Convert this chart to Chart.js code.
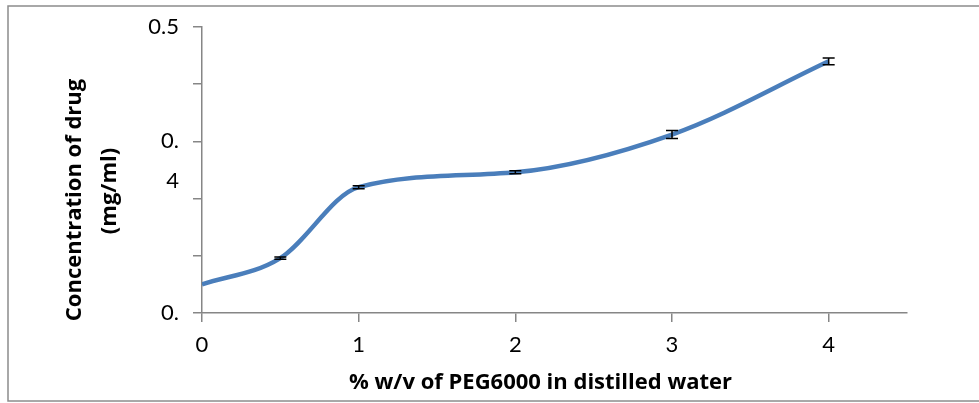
<!DOCTYPE html>
<html>
<head>
<meta charset="utf-8">
<script src="https://cdn.jsdelivr.net/npm/chart.js@4"></script>
<style>
  html, body { margin: 0; padding: 0; background: #fff; }
  #wrap { width: 979px; height: 403px; }
</style>
</head>
<body>
<div id="wrap"><canvas id="drugChart"></canvas></div>
<script>
// % w/v of PEG6000 and measured drug concentration (mg/ml)
const pegPercent = [0, 0.5, 1, 2, 3, 4];
const drugConc = [0.275, 0.298, 0.360, 0.373, 0.406, 0.470];
const drugErr = [0, 0.001, 0.0013, 0.0013, 0.0035, 0.003];

const xTicks = [0, 1, 2, 3, 4];
const yTicks = [0.25, 0.3, 0.35, 0.4, 0.45, 0.5];
const yTickLabels = ['0.', '', '', ['', '0.', '4'], '', '0.5'];
const xTitle = '% w/v of PEG6000 in distilled water';
const yTitleLines = ['Concentration of drug', '(mg/ml)'];

const axisGray = '#868686';
const titleFont = 'bold 22px "Open Sans"';

// frame round the whole picture
const framePlugin = {
    id: 'frame',
    beforeDraw(chart) {
        const ctx = chart.ctx;
        ctx.save();
        ctx.strokeStyle = '#8c8c8c';
        ctx.lineWidth = 1.5;
        ctx.strokeRect(8, 6, 1000, 395);
        ctx.restore();
    }
};

// axis titles, placed like the original (a little off the axis middle)
const titlePlugin = {
    id: 'axisTitles',
    afterDraw(chart) {
        const ctx = chart.ctx;
        const area = chart.chartArea;
        ctx.save();
        ctx.fillStyle = '#000';
        ctx.font = titleFont;
        ctx.textAlign = 'center';
        ctx.textBaseline = 'middle';

        ctx.fillText(xTitle, (area.left + area.right) / 2 - 14, 383);

        const midY = (area.top + area.bottom) / 2 + 30;
        [75, 110].forEach(function(x, i) {
            ctx.save();
            ctx.translate(x, midY - i * 9);
            ctx.rotate(-Math.PI / 2);
            ctx.fillText(yTitleLines[i], 0, 0);
            ctx.restore();
        });
        ctx.restore();
    }
};

// error bars
const errorBarPlugin = {
    id: 'errorBars',
    afterDatasetsDraw(chart) {
        const ctx = chart.ctx;
        const xs = chart.scales.x, ys = chart.scales.y;
        ctx.save();
        ctx.strokeStyle = '#000';
        ctx.lineWidth = 1.5;
        pegPercent.forEach(function(p, i) {
            if (!drugErr[i]) return;
            const px = xs.getPixelForValue(p);
            const top = ys.getPixelForValue(drugConc[i] + drugErr[i]);
            const bot = ys.getPixelForValue(drugConc[i] - drugErr[i]);
            ctx.beginPath();
            ctx.moveTo(px, top); ctx.lineTo(px, bot);
            ctx.moveTo(px - 6, top); ctx.lineTo(px + 6, top);
            ctx.moveTo(px - 6, bot); ctx.lineTo(px + 6, bot);
            ctx.stroke();
        });
        ctx.restore();
    }
};

const ctx = document.getElementById('drugChart').getContext('2d');
const drugChart = new Chart(ctx, {
    type: 'line',
    data: {
        datasets: [{
            label: 'Concentration of drug',
            data: pegPercent.map((p, i) => ({ x: p, y: drugConc[i] })),
            borderColor: '#4a7ebb',
            borderWidth: 4.5,
            pointRadius: 0,
            cubicInterpolationMode: 'monotone',
            fill: false
        }]
    },
    options: {
        responsive: true,
        maintainAspectRatio: false,
        animation: false,
        layout: { padding: { left: 0, top: 27, right: 72, bottom: 0 } },
        plugins: {
            legend: { display: false },
            tooltip: { enabled: false }
        },
        scales: {
            x: {
                type: 'linear',
                min: 0,
                max: 4.5,
                afterBuildTicks: function(scale) {
                    scale.ticks = xTicks.map(v => ({ value: v }));
                },
                afterFit: function(scale) {
                    scale.height = 90;
                    scale.paddingLeft = 0;
                    scale.paddingRight = 0;
                },
                border: { display: true, color: axisGray, width: 1.5 },
                grid: { drawOnChartArea: false, drawTicks: true, tickLength: 9, color: axisGray, lineWidth: 1.5 },
                ticks: {
                    color: '#000',
                    padding: 10,
                    maxRotation: 0,
                    autoSkip: false,
                    font: { family: 'Lato', size: 22 }
                }
            },
            y: {
                min: 0.25,
                max: 0.5,
                afterBuildTicks: function(scale) {
                    scale.ticks = yTicks.map(v => ({ value: v }));
                },
                afterFit: function(scale) {
                    scale.width = 202;
                    scale.paddingTop = 0;
                    scale.paddingBottom = 0;
                },
                border: { display: true, color: axisGray, width: 1.5 },
                grid: { drawOnChartArea: false, drawTicks: true, tickLength: 9, color: axisGray, lineWidth: 1.5 },
                ticks: {
                    color: '#000',
                    padding: 14,
                    autoSkip: false,
                    font: { family: 'Lato', size: 22, lineHeight: 1.8 },
                    callback: function(value, index) { return yTickLabels[index]; }
                }
            }
        }
    },
    plugins: [framePlugin, errorBarPlugin, titlePlugin]
});
</script>
</body>
</html>
